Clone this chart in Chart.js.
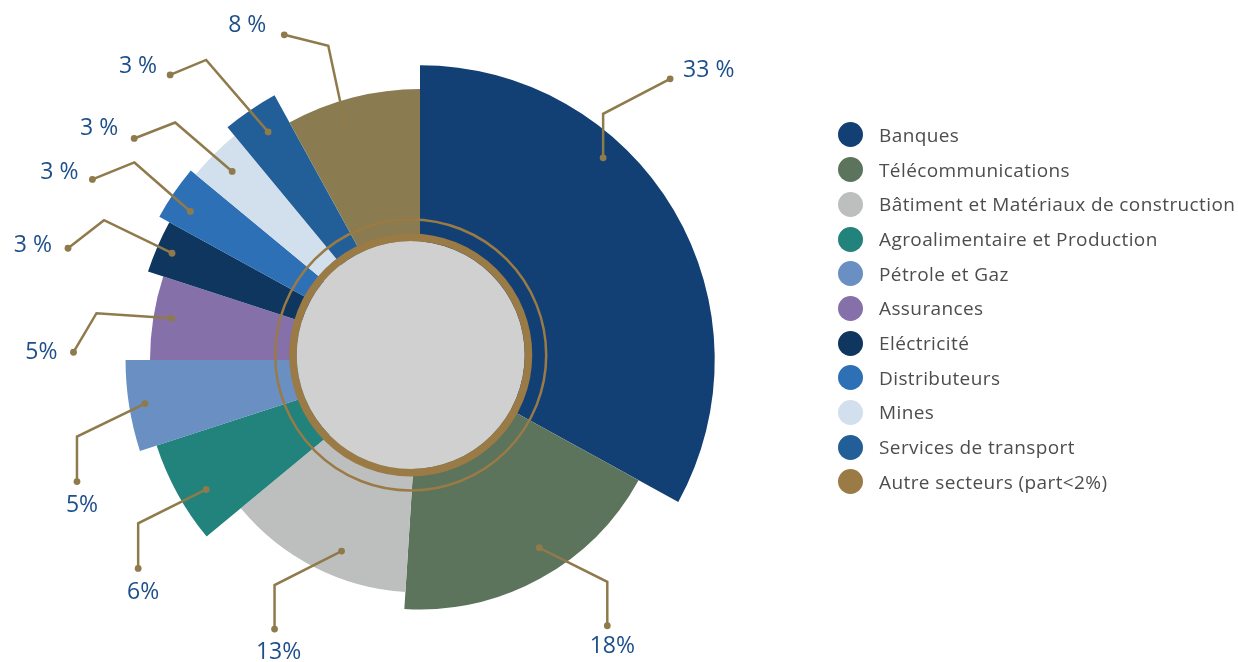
<!DOCTYPE html>
<html lang="fr">
<head>
<meta charset="UTF-8" />
<title>Répartition par secteur</title>
<script src="https://cdn.jsdelivr.net/npm/chart.js"></script>
<style>
  body { margin: 0; background: #fff; }
  #cadre { position: relative; width: 1238px; height: 662px; overflow: hidden; }
  #legende { position: absolute; left: 838px; top: 117.6px; margin: 0; padding: 0; list-style: none;
             font-family: 'Open Sans', sans-serif; font-size: 19px; letter-spacing: 0.4px; color: #4d4d4d; }
  #legende li { display: flex; align-items: center; height: 34.7px; white-space: nowrap; }
  #legende .pastille { width: 25px; height: 25px; border-radius: 50%; margin-right: 16px; flex: none; }
</style>
</head>
<body>
<div id="cadre">
  <canvas id="secteursChart" width="1238" height="662"></canvas>
  <ul id="legende"></ul>
</div>

<script>
// Secteurs, dans l'ordre horaire à partir de midi
const secteurs = [
  'Banques', 'Télécommunications', 'Bâtiment et Matériaux de construction',
  'Agroalimentaire et Production', 'Pétrole et Gaz', 'Assurances', 'Eléctricité',
  'Distributeurs', 'Mines', 'Services de transport', 'Autre secteurs (part<2%)'
];
// Part de chaque secteur en % (donne l'angle de la part)
const parts = [33, 18, 13, 6, 5, 5, 3, 3, 3, 3, 8];
// Longueur relative de chaque part (échelle 0 - 100)
const longueurs = [97.6, 82.6, 77.0, 91.7, 97.5, 89.4, 94.7, 98.5, 96.4, 100, 89.7];

const couleurs = ['#134074', '#5c735c', '#bdbfbe', '#21837b', '#6a8fc2', '#8570a9',
                  '#0f365f', '#2e70b6', '#d2dfec', '#225f98', '#8a7b50'];
const couleursLegende = couleurs.slice(0, 10).concat(['#9a7b46']);
const OR = '#8f7a4b';

// Repères : point dans la part (fraction de l'angle, retrait depuis le bord),
// coude et bout de la ligne (décalages en px), puis place du texte
const reperes = [
  { t: 0.355, d: 22, coude: [0, -44],   fin: [67, -35],  align: 'left',   texte: [13, -8],   sep: ' ' },
  { t: 0.444, d: 27, coude: [68, 34],   fin: [0, 44],    align: 'center', texte: [5, 21],    sep: '' },
  { t: 0.40,  d: 26, coude: [-67, 34],  fin: [0, 44],    align: 'center', texte: [4, 23.5],  sep: '' },
  { t: 0.39,  d: 27, coude: [-68, 34],  fin: [0, 45],    align: 'center', texte: [5, 24],    sep: '' },
  { t: 0.50,  d: 16, coude: [-68, 33],  fin: [0, 45],    align: 'center', texte: [5, 24],    sep: '' },
  { t: 0.53,  d: 18, coude: [-75, -5],  fin: [-23, 39],  align: 'right',  texte: [-16, 0],   sep: '' },
  { t: 0.49,  d: 16, coude: [-68, -33], fin: [-36, 28],  align: 'right',  texte: [-16, -3],  sep: ' ' },
  { t: 0.38,  d: 24, coude: [-56, -49], fin: [-42, 17],  align: 'right',  texte: [-14, -7],  sep: ' ' },
  { t: 0.51,  d: 25, coude: [-57, -49], fin: [-41, 16],  align: 'right',  texte: [-16, -10], sep: ' ' },
  { t: 0.55,  d: 28, coude: [-62, -72], fin: [-36, 15],  align: 'right',  texte: [-13, -8],  sep: ' ' },
  { t: 0.39,  d: 20, coude: [-16, -75], fin: [-44, -11], align: 'right',  texte: [-18, -9],  sep: ' ' }
];

// Disque gris + anneaux dorés au centre
const anneau = {
  id: 'anneau',
  afterDatasetsDraw(chart) {
    const r = chart.scales.r;
    const ctx = chart.ctx;
    const cx = r.xCenter - 9.3, cy = r.yCenter - 5;
    ctx.save();
    ctx.fillStyle = '#d0d0d0';
    ctx.beginPath(); ctx.arc(cx, cy, 114, 0, Math.PI * 2); ctx.fill();
    ctx.strokeStyle = '#9a7a45';
    ctx.lineWidth = 7.5;
    ctx.beginPath(); ctx.arc(cx, cy, 117.8, 0, Math.PI * 2); ctx.stroke();
    ctx.lineWidth = 2.5;
    ctx.beginPath(); ctx.arc(cx, cy, 135.5, 0, Math.PI * 2); ctx.stroke();
    ctx.restore();
  }
};

// Lignes de rappel et pourcentages
const rappels = {
  id: 'rappels',
  afterDatasetsDraw(chart) {
    const ctx = chart.ctx;
    const arcs = chart.getDatasetMeta(0).data;
    ctx.save();
    ctx.font = '23px "Open Sans", sans-serif';
    ctx.textBaseline = 'middle';
    arcs.forEach((arc, i) => {
      const rep = reperes[i];
      const p = arc.getProps(['x', 'y', 'startAngle', 'endAngle', 'outerRadius'], true);
      const a = p.startAngle + rep.t * (p.endAngle - p.startAngle);
      const x0 = p.x + Math.cos(a) * (p.outerRadius - rep.d);
      const y0 = p.y + Math.sin(a) * (p.outerRadius - rep.d);
      const x1 = x0 + rep.coude[0], y1 = y0 + rep.coude[1];
      const x2 = x1 + rep.fin[0], y2 = y1 + rep.fin[1];

      ctx.strokeStyle = OR;
      ctx.fillStyle = OR;
      ctx.lineWidth = 2.5;
      ctx.lineJoin = 'miter';
      ctx.beginPath();
      ctx.moveTo(x0, y0); ctx.lineTo(x1, y1); ctx.lineTo(x2, y2);
      ctx.stroke();
      [[x0, y0], [x2, y2]].forEach(([x, y]) => {
        ctx.beginPath(); ctx.arc(x, y, 3.4, 0, Math.PI * 2); ctx.fill();
      });

      ctx.fillStyle = '#1d4f8b';
      ctx.textAlign = rep.align;
      ctx.fillText(parts[i] + rep.sep + '%', x2 + rep.texte[0], y2 + rep.texte[1]);
    });
    ctx.restore();
  }
};

// Légende en HTML à partir des libellés du graphique
const legendeHtml = {
  id: 'legendeHtml',
  afterUpdate(chart) {
    const ul = document.getElementById('legende');
    ul.innerHTML = '';
    const items = chart.options.plugins.legend.labels.generateLabels(chart);
    items.forEach((item, i) => {
      const li = document.createElement('li');
      const pastille = document.createElement('span');
      pastille.className = 'pastille';
      pastille.style.background = couleursLegende[i];
      li.appendChild(pastille);
      li.appendChild(document.createTextNode(item.text));
      ul.appendChild(li);
    });
  }
};

new Chart(document.getElementById('secteursChart').getContext('2d'), {
  type: 'polarArea',
  data: {
    labels: secteurs,
    datasets: [{
      data: longueurs,
      angle: c => parts[c.dataIndex] * 3.6,
      backgroundColor: couleurs,
      borderWidth: 0
    }]
  },
  options: {
    responsive: false,
    animation: false,
    layout: { padding: { left: 118, right: 516, top: 58, bottom: 0 } },
    scales: { r: { display: false, min: 0, max: 100, startAngle: 0 } },
    plugins: { legend: { display: false }, tooltip: { enabled: false } }
  },
  plugins: [anneau, rappels, legendeHtml]
});
</script>
</body>
</html>
